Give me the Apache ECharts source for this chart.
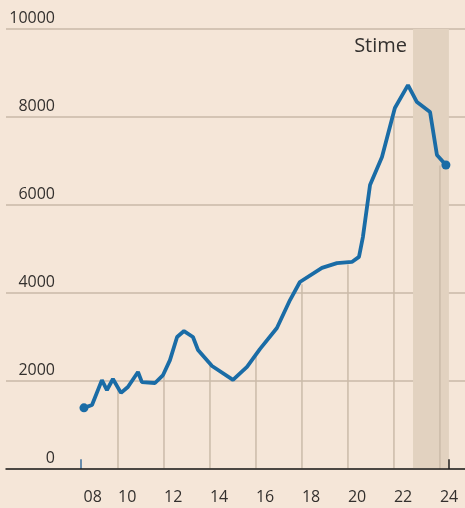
<!DOCTYPE html>
<html>
<head>
<meta charset="utf-8">
<script src="https://cdn.jsdelivr.net/npm/echarts@6/dist/echarts.min.js"></script>
<style>
  html, body { margin: 0; padding: 0; background: #f5e6d8; }
  #main { width: 465px; height: 508px; }
</style>
</head>
<body>
<div id="main"></div>
<script>
// serie principale (anno decimale, valore)
var years = [2008.52, 2008.87, 2009.30, 2009.52, 2009.78, 2010.13, 2010.43, 2010.87, 2011.04,
    2011.61, 2011.96, 2012.26, 2012.57, 2012.87, 2013.26, 2013.48, 2014.09, 2015.0, 2015.61,
    2016.17, 2016.91, 2017.48, 2017.91, 2018.87, 2019.52, 2020.17, 2020.48, 2020.65, 2020.96,
    2021.48, 2022.04, 2022.61, 2023.0, 2023.57, 2023.87, 2024.26];
var values = [1390, 1455, 2020, 1795, 2045, 1730, 1865, 2205, 1975,
    1955, 2135, 2475, 3000, 3135, 3000, 2705, 2340, 2025, 2320,
    2725, 3205, 3840, 4250, 4570, 4680, 4705, 4820, 5270, 6455,
    7090, 8205, 8725, 8340, 8115, 7135, 6910];

// linee verticali sotto la curva
var dropYears = [2010, 2012, 2014, 2016, 2018, 2020, 2022, 2024];
var dropValues = [1800, 2100, 2350, 2550, 4200, 4650, 8000, 6900];

// etichette asse x
var xLabelYears = [2008.5, 2010, 2012, 2014, 2016, 2018, 2020, 2022, 2024];
var yTicks = [0, 2000, 4000, 6000, 8000, 10000];

// periodo di stima
var stimeBand = [2022.83, 2024.39];
var stimeLabel = 'Stime';
var edgeTicks = [2008.39, 2024.39];

var lineData = years.map(function (y, i) { return [y, values[i]]; });
var dropData = dropYears.map(function (y, i) { return [y, dropValues[i]]; });
var dotData = [lineData[0], lineData[lineData.length - 1]];

var myChart = echarts.init(document.getElementById('main'));
myChart.setOption({
    backgroundColor: '#f5e6d8',
    animation: false,
    textStyle: { fontFamily: 'Open Sans' },
    grid: { left: 6, right: 0, top: 29, bottom: 39, outerBoundsMode: 'none' },
    xAxis: {
        type: 'value',
        min: 2005.13,
        max: 2025.09,
        splitLine: { show: false },
        axisLine: { show: true, lineStyle: { color: '#1e1e1e', width: 1.5 } },
        axisTick: { show: false },
        axisLabel: {
            customValues: xLabelYears,
            align: 'left',
            margin: 20,
            fontSize: 16,
            color: '#33302e',
            formatter: function (v) {
                return String(Math.floor(v) % 100).padStart(2, '0');
            }
        },
        z: 5
    },
    yAxis: {
        type: 'value',
        min: 0,
        max: 10000,
        interval: 2000,
        axisLine: { show: false },
        axisTick: { show: false },
        splitLine: { lineStyle: { color: '#c8b9a9', width: 1.5 } },
        axisLabel: {
            customValues: yTicks,
            inside: true,
            align: 'right',
            margin: 49,
            verticalAlign: 'bottom',
            lineHeight: 16,
            padding: [0, 0, 3, 0],
            fontSize: 16,
            color: '#33302e',
            formatter: function (v) { return String(v); }
        }
    },
    series: [
        {
            type: 'bar',
            data: dropData,
            barWidth: 1.5,
            itemStyle: { color: '#cbbba9' },
            silent: true,
            z: 1
        },
        {
            type: 'line',
            data: lineData,
            showSymbol: false,
            lineStyle: { color: '#1a6ca6', width: 3.8 },
            z: 4,
            markArea: {
                silent: true,
                itemStyle: { color: '#e2d2c0' },
                label: {
                    show: true,
                    position: [-6, 7],
                    align: 'right',
                    verticalAlign: 'top',
                    fontSize: 20,
                    color: '#33302e',
                    fontFamily: 'Open Sans'
                },
                data: [[{ xAxis: stimeBand[0], name: stimeLabel }, { xAxis: stimeBand[1] }]]
            },
            markLine: {
                silent: true,
                symbol: 'none',
                label: { show: false },
                data: [
                    [{ coord: [edgeTicks[0], 0], lineStyle: { color: '#3a6e9c', width: 1.5, type: 'solid' } },
                     { coord: [edgeTicks[0], 220] }],
                    [{ coord: [edgeTicks[1], 0], lineStyle: { color: '#1e1e1e', width: 1.5, type: 'solid' } },
                     { coord: [edgeTicks[1], 220] }]
                ]
            }
        },
        {
            type: 'scatter',
            data: dotData,
            symbolSize: 9,
            itemStyle: { color: '#1a6ca6', opacity: 1 },
            z: 5
        }
    ]
});
</script>
</body>
</html>
